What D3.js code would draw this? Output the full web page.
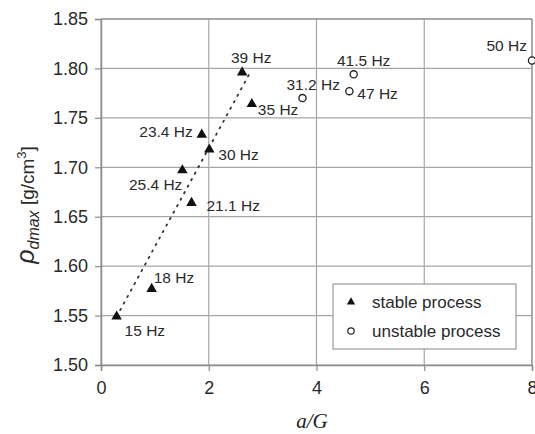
<!DOCTYPE html>
<html>
<head>
<meta charset="utf-8">
<script src="https://cdn.jsdelivr.net/npm/d3@7"></script>
<style>
  body { margin: 0; background: #fff; }
  svg { display: block; font-family: "Liberation Sans", Arial, sans-serif; }
</style>
</head>
<body>
<svg id="chart" width="535" height="434"></svg>
<script>
// stable process points
const stableFreq = ["15 Hz", "18 Hz", "21.1 Hz", "25.4 Hz", "30 Hz", "23.4 Hz", "35 Hz", "39 Hz"];
const stableX = [0.29, 0.94, 1.68, 1.51, 2.01, 1.87, 2.80, 2.62];
const stableY = [1.549, 1.577, 1.664, 1.697, 1.718, 1.733, 1.764, 1.796];

// unstable process points
const unstableFreq = ["31.2 Hz", "41.5 Hz", "47 Hz", "50 Hz"];
const unstableX = [3.74, 4.69, 4.61, 8.0];
const unstableY = [1.770, 1.794, 1.777, 1.808];

// dotted trend line ends
const trendX = [0.29, 2.76];
const trendY = [1.549, 1.795];

const xTicks = [0, 2, 4, 6, 8];
const yTicks = [1.50, 1.55, 1.60, 1.65, 1.70, 1.75, 1.80, 1.85];

// label placement (dx, dy, anchor) for each point
const stableLabelPos = [[8, 19, "start"], [2, -6, "start"], [15, 8, "start"], [0, 20, "end"],
  [9, 11, "start"], [-9, 2, "end"], [6, 11, "start"], [9, -9, "middle"]];
const unstableLabelPos = [[-16, -8, "start"], [10, -8, "middle"], [8, 8, "start"], [-5, -10, "end"]];

const svg = d3.select("#chart");

const x = d3.scaleLinear().domain([0, 8]).range([101, 532]);
const y = d3.scaleLinear().domain([1.5, 1.85]).range([365, 19]);

// grid
svg.append("g").selectAll("line")
  .data(xTicks)
  .join("line")
  .attr("x1", d => x(d)).attr("x2", d => x(d))
  .attr("y1", y(1.85)).attr("y2", y(1.5))
  .attr("stroke", "#a6a6a6").attr("stroke-width", 1.2);

svg.append("g").selectAll("line")
  .data(yTicks)
  .join("line")
  .attr("x1", x(0)).attr("x2", x(8))
  .attr("y1", d => y(d)).attr("y2", d => y(d))
  .attr("stroke", "#a6a6a6").attr("stroke-width", 1.2);

// axes
const xAxis = d3.axisBottom(x).tickValues(xTicks).tickSize(6).tickFormat(d3.format("d"));
const gx = svg.append("g").attr("transform", `translate(0,${y(1.5)})`).call(xAxis);
gx.select(".domain").attr("stroke", "#8c8c8c").attr("stroke-width", 1.5);
gx.selectAll(".tick line").attr("stroke", "#8c8c8c").attr("stroke-width", 1.2);
gx.selectAll(".tick text").attr("font-size", 18).attr("fill", "#2a2a2a")
  .attr("font-family", "Liberation Sans, Arial, sans-serif").attr("dy", "1.1em");

const yAxis = d3.axisLeft(y).tickValues(yTicks).tickSize(6).tickFormat(d3.format(".2f"));
const gy = svg.append("g").attr("transform", `translate(${x(0)},0)`).call(yAxis);
gy.select(".domain").attr("stroke", "#8c8c8c").attr("stroke-width", 1.5);
gy.selectAll(".tick line").attr("stroke", "#8c8c8c").attr("stroke-width", 1.2);
gy.selectAll(".tick text").attr("font-size", 18).attr("fill", "#2a2a2a")
  .attr("font-family", "Liberation Sans, Arial, sans-serif").attr("x", -13);

// frame top/right
svg.append("line").attr("x1", x(0)).attr("x2", x(8)).attr("y1", y(1.85)).attr("y2", y(1.85))
  .attr("stroke", "#9a9a9a").attr("stroke-width", 1.3);
svg.append("line").attr("x1", x(8)).attr("x2", x(8)).attr("y1", y(1.85)).attr("y2", y(1.5))
  .attr("stroke", "#9a9a9a").attr("stroke-width", 1.3);

// trend line
svg.append("path")
  .datum(d3.range(trendX.length))
  .attr("d", d3.line().x(i => x(trendX[i])).y(i => y(trendY[i])))
  .attr("fill", "none").attr("stroke", "#333").attr("stroke-width", 1.8)
  .attr("stroke-dasharray", "1.4,6").attr("stroke-linecap", "round");

// stable points
const tri = d3.symbol().type(d3.symbolTriangle).size(48);
svg.append("g").selectAll("path")
  .data(d3.range(stableX.length))
  .join("path")
  .attr("d", tri)
  .attr("transform", i => `translate(${x(stableX[i])},${y(stableY[i])})`)
  .attr("fill", "#111");

// unstable points
svg.append("g").selectAll("circle")
  .data(d3.range(unstableX.length))
  .join("circle")
  .attr("cx", i => x(unstableX[i])).attr("cy", i => y(unstableY[i]))
  .attr("r", 3.6).attr("fill", "#fff").attr("stroke", "#222").attr("stroke-width", 1.3);

// point labels
svg.append("g").selectAll("text")
  .data(d3.range(stableFreq.length))
  .join("text")
  .attr("x", i => x(stableX[i]) + stableLabelPos[i][0])
  .attr("y", i => y(stableY[i]) + stableLabelPos[i][1])
  .attr("text-anchor", i => stableLabelPos[i][2])
  .attr("font-size", 15.5).attr("fill", "#2a2a2a")
  .text(i => stableFreq[i]);

svg.append("g").selectAll("text")
  .data(d3.range(unstableFreq.length))
  .join("text")
  .attr("x", i => x(unstableX[i]) + unstableLabelPos[i][0])
  .attr("y", i => y(unstableY[i]) + unstableLabelPos[i][1])
  .attr("text-anchor", i => unstableLabelPos[i][2])
  .attr("font-size", 15.5).attr("fill", "#2a2a2a")
  .text(i => unstableFreq[i]);

// legend
const lg = svg.append("g").attr("transform", "translate(333,284)");
lg.append("rect").attr("width", 183).attr("height", 65)
  .attr("fill", "#fff").attr("stroke", "#9a9a9a").attr("stroke-width", 1.2);
lg.append("path").attr("d", d3.symbol().type(d3.symbolTriangle).size(30)())
  .attr("transform", "translate(18,18)").attr("fill", "#111");
lg.append("circle").attr("cx", 18).attr("cy", 47).attr("r", 3.2)
  .attr("fill", "#fff").attr("stroke", "#222").attr("stroke-width", 1.2);
lg.append("text").attr("x", 39).attr("y", 24).attr("font-size", 17).attr("fill", "#2a2a2a").text("stable process");
lg.append("text").attr("x", 39).attr("y", 53).attr("font-size", 17).attr("fill", "#2a2a2a").text("unstable process");

// axis titles
const yt = svg.append("text")
  .attr("transform", "translate(34,205) rotate(-90)")
  .attr("text-anchor", "middle")
  .attr("fill", "#2a2a2a").attr("font-size", 19);
yt.append("tspan").attr("font-style", "italic").attr("font-size", 25).text("ρ");
yt.append("tspan").attr("font-style", "italic").attr("font-size", 16).attr("dy", 5).text("dmax");
yt.append("tspan").attr("dy", -5).text("  [g/cm");
yt.append("tspan").attr("font-size", 13).attr("dy", -8).text("3");
yt.append("tspan").attr("dy", 8).text("]");

svg.append("text")
  .attr("x", 312).attr("y", 428)
  .attr("text-anchor", "middle")
  .attr("font-family", "Liberation Serif, Times New Roman, serif")
  .attr("font-style", "italic").attr("font-size", 21).attr("fill", "#222")
  .text("a/G");
</script>
</body>
</html>
